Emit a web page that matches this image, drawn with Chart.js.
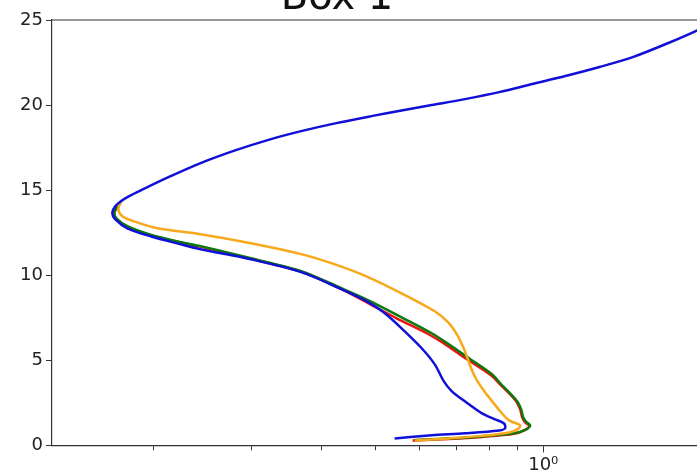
<!DOCTYPE html>
<html><head><meta charset="utf-8">
<script src="https://cdn.jsdelivr.net/npm/chart.js@4.4.0/dist/chart.umd.min.js"></script>
<style>
html,body{margin:0;padding:0;width:697px;height:473px;overflow:hidden;background:#fff;}
#wrap{position:absolute;left:-26px;top:-22px;width:726px;height:500px;}
</style></head><body>
<div id="wrap"><canvas id="c"></canvas></div>
<script>
const chartTitle = 'Box 1';

const blueX = [0.5413,0.631,0.7234,0.8332,0.854,0.8506,0.8193,0.7764,0.7234,0.6856,0.6633,0.6389,0.6053,0.557,0.5171,0.4859,0.4343,0.3679,0.2990,0.2429,0.2237,0.1975,0.1795,0.1708,0.1687,0.1715,0.1795,0.1934,0.2146,0.2429,0.2810,0.3249,0.3679,0.4254,0.4918,0.557,0.631,0.7234,0.8332,0.9554,1.0956,1.2615,1.4468,1.6591,1.9102,2.1457];
const blueY = [0.41,0.59,0.71,0.88,1.0,1.29,1.53,1.88,2.59,3.18,3.76,4.76,5.71,6.88,7.82,8.41,9.18,10.18,10.94,11.53,11.82,12.29,12.76,13.29,13.65,14.12,14.59,15.12,15.82,16.59,17.35,18.0,18.47,18.94,19.35,19.68,20.0,20.35,20.76,21.24,21.71,22.24,22.82,23.59,24.47,25.35];

const greenX = [0.588,0.677,0.7764,0.8866,0.928,0.9475,0.9319,0.9204,0.9128,0.8978,0.8720,0.8436,0.809,0.7358,0.677,0.631,0.557,0.4859,0.4343,0.3679,0.2990,0.2429,0.2237,0.1975,0.1795,0.1715,0.1701,0.1729];
const greenY = [0.32,0.41,0.53,0.71,0.91,1.18,1.38,1.65,2.12,2.59,3.06,3.53,4.18,5.12,5.94,6.59,7.53,8.53,9.24,10.24,11.0,11.71,11.94,12.38,12.88,13.35,13.71,14.06];

const redX = [0.583,0.677,0.7764,0.8866,0.9242,0.9436,0.928,0.9166,0.9089,0.894,0.8685,0.8402,0.8045,0.7295,0.6714,0.618,0.5456,0.4859,0.4343,0.3679,0.2990,0.2429,0.2237,0.1975,0.1795,0.1715,0.1701,0.1729];
const redY = [0.29,0.38,0.5,0.68,0.88,1.15,1.35,1.65,2.12,2.59,3.06,3.53,4.14,5.06,5.88,6.59,7.47,8.35,9.18,10.21,10.97,11.68,11.92,12.36,12.86,13.33,13.7,14.05];

const orangeX = [0.588,0.677,0.7764,0.8685,0.9015,0.9089,0.8685,0.8402,0.8126,0.7861,0.7604,0.7449,0.7325,0.7174,0.6998,0.6745,0.6389,0.557,0.4859,0.4219,0.3679,0.2990,0.2429,0.2033,0.1840,0.1758,0.1729,0.1751];
const orangeY = [0.29,0.41,0.56,0.76,0.97,1.18,1.47,1.94,2.53,3.12,3.82,4.41,5.06,5.82,6.53,7.24,7.88,8.94,9.88,10.65,11.24,11.88,12.41,12.76,13.18,13.47,13.88,14.35];

const xTickValues = [0.2,0.3,0.4,0.5,0.6,0.7,0.8,0.9,1];
const xTickLabel = {1: '10\u2070'};
const yTickValues = [0,5,10,15,20,25];

function pts(xs, ys){ return xs.map((x,i)=>({x:x, y:ys[i]})); }

const topSpine = {
  id:'topSpine',
  afterDatasetsDraw(chart){
    const {ctx, chartArea:a} = chart;
    ctx.save();
    ctx.strokeStyle = '#333';
    ctx.lineWidth = 1.2;
    ctx.beginPath();
    ctx.moveTo(a.left, a.top);
    ctx.lineTo(a.right, a.top);
    ctx.stroke();
    ctx.restore();
  }
};

new Chart(document.getElementById('c'), {
  type: 'line',
  data: {
    datasets: [
      {label:'blue', data: pts(blueX, blueY), borderColor:'#1010d8'},
      {label:'orange', data: pts(orangeX, orangeY), borderColor:'#f7a81b'},
      {label:'green', data: pts(greenX, greenY), borderColor:'#0b7a0b'},
      {label:'red', data: pts(redX, redY), borderColor:'#ee1111'}
    ]
  },
  options: {
    responsive: true,
    maintainAspectRatio: false,
    devicePixelRatio: 1,
    animation: false,
    layout: {padding: 0},
    elements: {
      point: {radius: 0, hoverRadius: 0},
      line: {borderWidth: 2.5, tension: 0.3, capBezierPoints: false, fill: false}
    },
    plugins: {
      legend: {display: false},
      tooltip: {enabled: false},
      title: {
        display: true,
        text: chartTitle,
        color: '#111',
        font: {family: 'DejaVu Sans', size: 40, weight: 'normal', lineHeight: 1.05},
        padding: 0
      }
    },
    scales: {
      x: {
        type: 'logarithmic',
        min: 0.1315,
        max: 1.9102,
        afterBuildTicks: (s) => { s.ticks = xTickValues.map(v => ({value: v})); },
        ticks: {
          autoSkip: false, maxRotation: 0, padding: 2,
          color: '#222',
          font: {family: 'DejaVu Sans', size: 18},
          callback: (v) => xTickLabel[v] || ''
        },
        grid: {
          drawOnChartArea: false,
          tickLength: 7,
          tickColor: '#333',
          tickWidth: 1,
          tickBorderDash: (ctx) => (ctx.tick && ctx.tick.value === 1) ? [] : [4, 40]
        },
        border: {display: true, color: '#333', width: 1.2}
      },
      y: {
        type: 'linear',
        min: 0, max: 25,
        afterBuildTicks: (s) => { s.ticks = yTickValues.map(v => ({value: v})); },
        afterFit: (s) => { s.width = 78; },
        ticks: {
          padding: 3,
          color: '#222',
          font: {family: 'DejaVu Sans', size: 18}
        },
        grid: {drawOnChartArea: false, tickLength: 6, tickColor: '#333', tickWidth: 1},
        border: {display: true, color: '#333', width: 1.2}
      }
    }
  },
  plugins: [topSpine]
});
</script>
</body></html>
